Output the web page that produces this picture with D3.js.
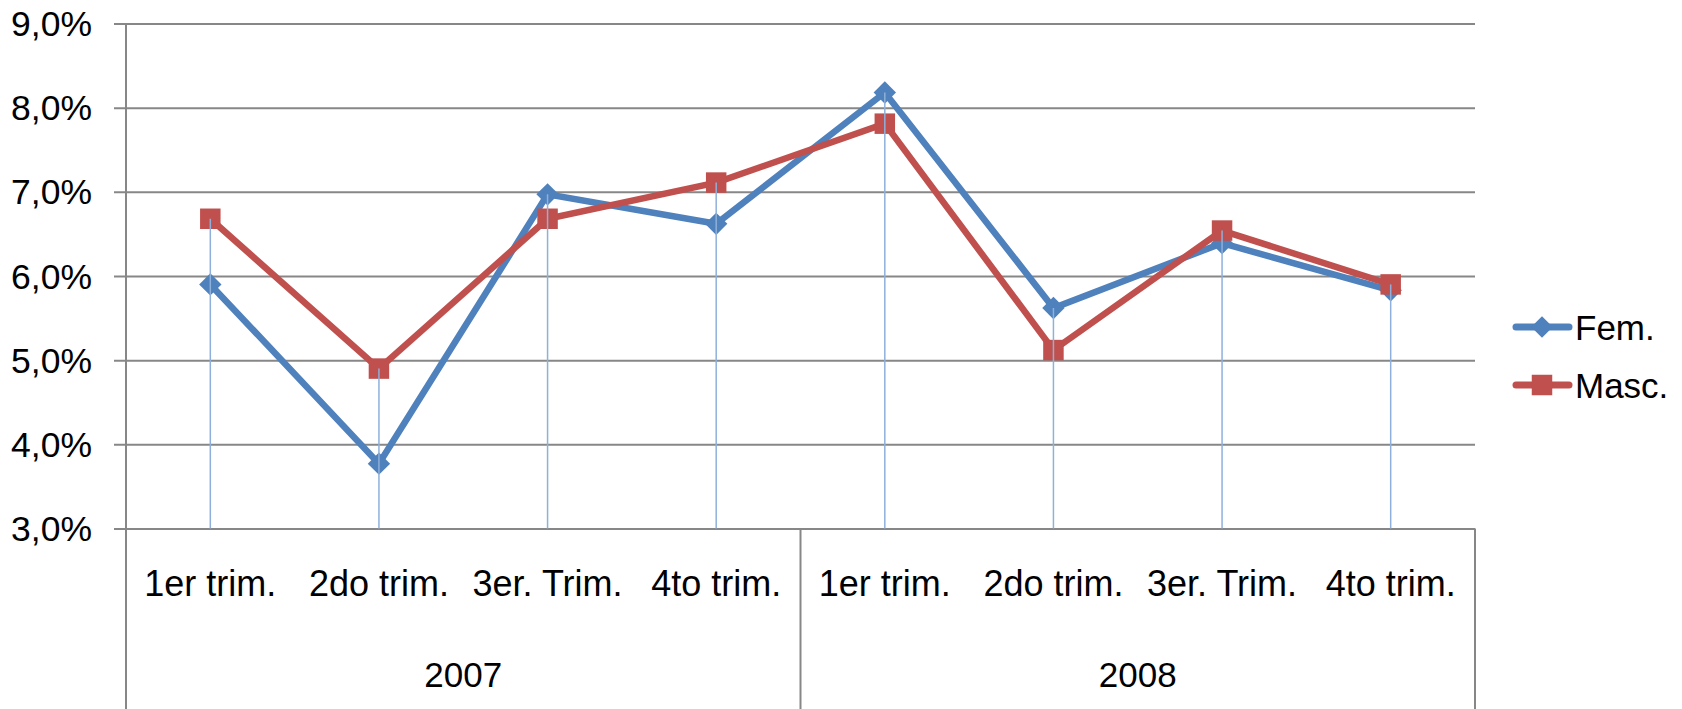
<!DOCTYPE html>
<html>
<head>
<meta charset="utf-8">
<script src="https://cdn.jsdelivr.net/npm/d3@7"></script>
<style>
  html, body { margin: 0; padding: 0; background: #ffffff; }
  svg { display: block; }
  text { font-family: "Liberation Sans", Arial, sans-serif; fill: #000; }
</style>
</head>
<body>
<svg id="chart" width="1682" height="709"></svg>
<script>
// ---- data ----
const quarters = ["1er trim.", "2do trim.", "3er. Trim.", "4to trim.", "1er trim.", "2do trim.", "3er. Trim.", "4to trim."];
const years = ["2007", "2008"];
const fem  = [5.90, 3.77, 6.97, 6.62, 8.18, 5.62, 6.39, 5.83];
const masc = [6.68, 4.90, 6.68, 7.11, 7.81, 5.12, 6.54, 5.90];
const seriesNames = ["Fem.", "Masc."];
const yTicks = [3, 4, 5, 6, 7, 8, 9];

// ---- layout ----
const W = 1682, H = 709;
const plotL = 126, plotR = 1475, plotT = 23.5, plotB = 528.5;
const colors = { "Fem.": "#4F81BD", "Masc.": "#C0504D" };
const gridColor = "#878787";
const dropColor = "#8EB0DA";

const svg = d3.select("#chart");
svg.append("rect").attr("width", W).attr("height", H).attr("fill", "#ffffff");

const y = d3.scaleLinear().domain([3, 9]).range([plotB, plotT]);
const x = d3.scalePoint().domain(d3.range(quarters.length)).range([plotL, plotR]).padding(0.5);
const yearX = d3.scaleBand().domain(years).range([plotL, plotR]);

// y axis with gridlines
const yAxis = d3.axisLeft(y)
  .tickValues(yTicks)
  .tickFormat(d => d.toFixed(1).replace(".", ",") + "%")
  .tickSizeOuter(0)
  .tickSizeInner(12)
  .tickPadding(22);
const gy = svg.append("g").attr("transform", `translate(${plotL},0)`).call(yAxis);
gy.select(".domain").remove();
gy.selectAll(".tick line")
  .attr("x1", -12).attr("x2", plotR - plotL)
  .attr("stroke", gridColor).attr("stroke-width", 2);
gy.selectAll(".tick text")
  .attr("font-size", 35.5)
  .attr("font-family", "Liberation Sans, Arial, sans-serif")
  .attr("fill", "#000")
  .attr("dy", "0.34em");

// y axis line (continues through category area)
svg.append("line")
  .attr("x1", plotL).attr("x2", plotL).attr("y1", plotT).attr("y2", H)
  .attr("stroke", gridColor).attr("stroke-width", 2);

// year separators and right edge of category area
years.forEach(yr => {
  const xr = yearX(yr) + yearX.bandwidth();
  svg.append("line")
    .attr("x1", xr).attr("x2", xr).attr("y1", plotB).attr("y2", H)
    .attr("stroke", gridColor).attr("stroke-width", 2);
});

// category labels
svg.append("g").selectAll("text").data(quarters).join("text")
  .attr("x", (d, i) => x(i))
  .attr("y", 596)
  .attr("text-anchor", "middle")
  .attr("font-size", 36)
  .text(d => d);

// year labels
svg.append("g").selectAll("text").data(years).join("text")
  .attr("x", d => yearX(d) + yearX.bandwidth() / 2)
  .attr("y", 687)
  .attr("text-anchor", "middle")
  .attr("font-size", 35)
  .text(d => d);

// series
const data = [
  { name: seriesNames[0], values: fem, marker: "diamond" },
  { name: seriesNames[1], values: masc, marker: "square" }
];
const line = d3.line().x((d, i) => x(i)).y(d => y(d));

data.forEach(s => {
  svg.append("path")
    .attr("d", line(s.values))
    .attr("fill", "none")
    .attr("stroke", colors[s.name])
    .attr("stroke-width", 6.5)
    .attr("stroke-linejoin", "miter");
  const sym = s.marker === "diamond"
    ? d3.symbol().type(d3.symbolSquare).size(250)
    : d3.symbol().type(d3.symbolSquare).size(420);
  svg.append("g").selectAll("path").data(s.values).join("path")
    .attr("d", sym)
    .attr("transform", (d, i) => `translate(${x(i)},${y(d)})` + (s.marker === "diamond" ? " rotate(45)" : ""))
    .attr("fill", colors[s.name]);
});

// drop lines from highest point to axis
svg.append("g").selectAll("line").data(quarters).join("line")
  .attr("x1", (d, i) => x(i)).attr("x2", (d, i) => x(i))
  .attr("y1", (d, i) => y(Math.max(fem[i], masc[i])))
  .attr("y2", plotB)
  .attr("stroke", dropColor).attr("stroke-width", 1.5);

// legend
const legend = svg.append("g");
const legY = [327, 385];
data.forEach((s, i) => {
  const g = legend.append("g").attr("transform", `translate(0,${legY[i]})`);
  g.append("line")
    .attr("x1", 1516).attr("x2", 1569).attr("y1", 0).attr("y2", 0)
    .attr("stroke", colors[s.name]).attr("stroke-width", 7).attr("stroke-linecap", "round");
  const sym = s.marker === "diamond"
    ? d3.symbol().type(d3.symbolSquare).size(230)
    : d3.symbol().type(d3.symbolSquare).size(420);
  g.append("path")
    .attr("d", sym)
    .attr("transform", `translate(1542,0)` + (s.marker === "diamond" ? " rotate(45)" : ""))
    .attr("fill", colors[s.name]);
  g.append("text")
    .attr("x", 1575).attr("y", 13)
    .attr("font-size", 35)
    .text(s.name);
});
</script>
</body>
</html>
